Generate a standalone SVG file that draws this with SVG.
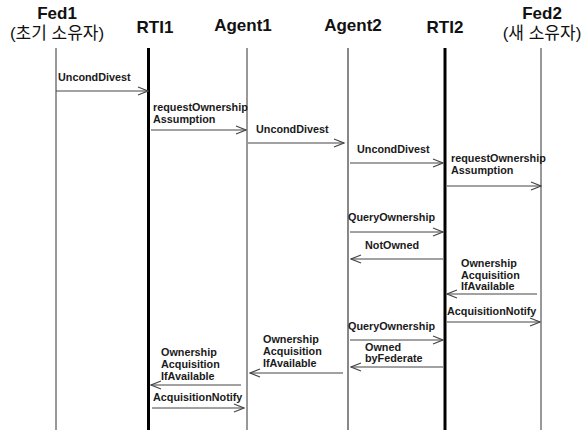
<svg xmlns="http://www.w3.org/2000/svg" width="587" height="430" viewBox="0 0 587 430">
  <style>
    .hdr { font-family: "Liberation Sans", Arial, sans-serif; font-weight: bold; font-size: 17px; fill: #111; text-anchor: middle; }
    .hdr-ko { font-family: "Liberation Sans", "Noto Sans CJK KR", sans-serif; font-weight: normal; font-size: 17px; fill: #111; text-anchor: middle; }
    .lbl { font-family: "Liberation Sans", Arial, sans-serif; font-weight: bold; font-size: 10.8px; fill: #1a1a1a; }
    .life-thin { stroke: #333; stroke-width: 1; }
    .life-mid { stroke: #888; stroke-width: 2; }
    .life-rti { stroke: #000; stroke-width: 3; }
    .msg { stroke: #444; stroke-width: 1; fill: none; marker-end: url(#open); }
  </style>
  <defs>
    <marker id="open" viewBox="0 0 12 10" refX="11" refY="5" markerWidth="12" markerHeight="10" markerUnits="userSpaceOnUse" orient="auto">
      <path d="M1,1 L11,5 L1,9" fill="none" stroke="#444" stroke-width="1.2"/>
    </marker>
  </defs>
  <rect width="587" height="430" fill="#fff"/>

  <g id="fed1">
    <text class="hdr" x="57" y="19">Fed1</text>
    <text class="hdr-ko" x="57" y="39">(초기 소유자)</text>
    <line class="life-thin" x1="56" y1="48" x2="56" y2="430"/>
  </g>
  <g id="rti1">
    <text class="hdr" x="155" y="33">RTI1</text>
    <line class="life-rti" x1="148.5" y1="48" x2="148.5" y2="430"/>
  </g>
  <g id="agent1">
    <text class="hdr" x="243" y="31">Agent1</text>
    <line class="life-thin" x1="247" y1="48" x2="247" y2="430"/>
  </g>
  <g id="agent2">
    <text class="hdr" x="353" y="31">Agent2</text>
    <line class="life-mid" x1="348" y1="48" x2="348" y2="430"/>
  </g>
  <g id="rti2">
    <text class="hdr" x="445" y="33">RTI2</text>
    <line class="life-rti" x1="445" y1="48" x2="445" y2="430"/>
  </g>
  <g id="fed2">
    <text class="hdr" x="542" y="19">Fed2</text>
    <text class="hdr-ko" x="542" y="39">(새 소유자)</text>
    <line class="life-thin" x1="541" y1="48" x2="541" y2="430"/>
  </g>

  <g id="connectors">
    <line class="msg" x1="56" y1="91" x2="148" y2="91"/>
    <line class="msg" x1="151" y1="130" x2="246" y2="130"/>
    <line class="msg" x1="248" y1="143" x2="344" y2="143"/>
    <line class="msg" x1="350" y1="163" x2="443" y2="163"/>
    <line class="msg" x1="447" y1="186" x2="541" y2="186"/>
    <line class="msg" x1="350" y1="232" x2="443" y2="232"/>
    <line class="msg" x1="443" y1="259" x2="351" y2="259"/>
    <line class="msg" x1="537" y1="294" x2="447" y2="294"/>
    <line class="msg" x1="447" y1="322" x2="540" y2="322"/>
    <line class="msg" x1="350" y1="340" x2="443" y2="340"/>
    <line class="msg" x1="443" y1="367" x2="351" y2="367"/>
    <line class="msg" x1="343" y1="373" x2="250" y2="373"/>
    <line class="msg" x1="241" y1="385" x2="151" y2="385"/>
    <line class="msg" x1="152" y1="408" x2="244" y2="408"/>
  </g>

  <g id="labels">
    <text class="lbl" x="58" y="81">UncondDivest</text>
    <text class="lbl" x="153" y="111">requestOwnership</text>
    <text class="lbl" x="153" y="123">Assumption</text>
    <text class="lbl" x="256" y="133">UncondDivest</text>
    <text class="lbl" x="357" y="153">UncondDivest</text>
    <text class="lbl" x="451" y="161.5">requestOwnership</text>
    <text class="lbl" x="451" y="173.5">Assumption</text>
    <text class="lbl" x="348" y="221">QueryOwnership</text>
    <text class="lbl" x="365" y="249">NotOwned</text>
    <text class="lbl" x="461" y="267">Ownership</text>
    <text class="lbl" x="461" y="279">Acquisition</text>
    <text class="lbl" x="461" y="290">IfAvailable</text>
    <text class="lbl" x="447" y="315">AcquisitionNotify</text>
    <text class="lbl" x="348" y="330">QueryOwnership</text>
    <text class="lbl" x="365" y="351">Owned</text>
    <text class="lbl" x="365" y="362">byFederate</text>
    <text class="lbl" x="263" y="343">Ownership</text>
    <text class="lbl" x="263" y="355">Acquisition</text>
    <text class="lbl" x="263" y="367">IfAvailable</text>
    <text class="lbl" x="161" y="356">Ownership</text>
    <text class="lbl" x="161" y="368">Acquisition</text>
    <text class="lbl" x="161" y="380">IfAvailable</text>
    <text class="lbl" x="153" y="401">AcquisitionNotify</text>
  </g>
</svg>
